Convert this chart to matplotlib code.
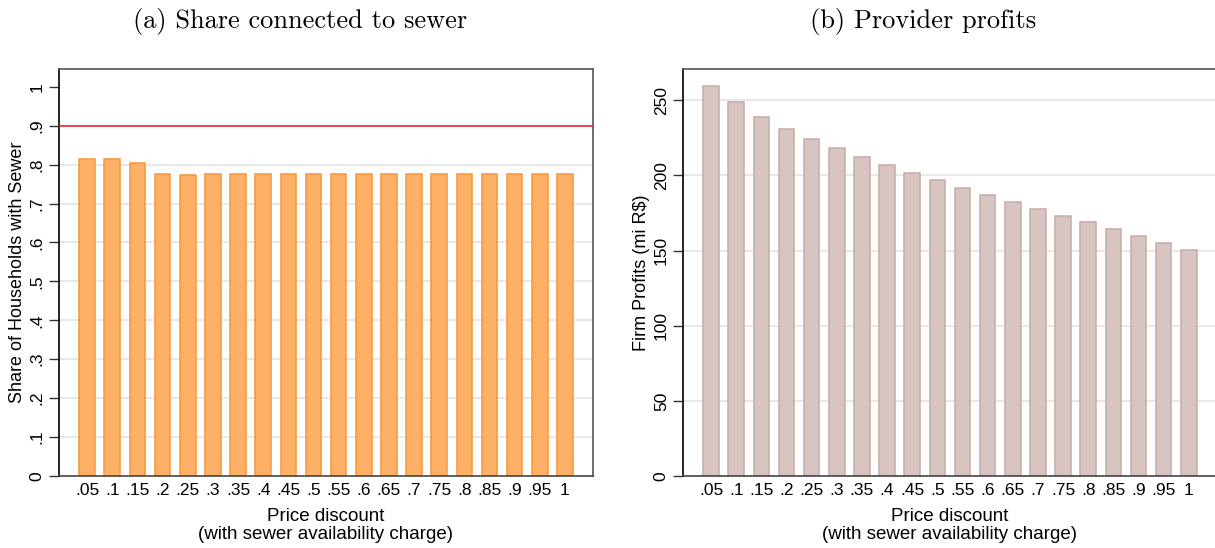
import numpy as np
import matplotlib
matplotlib.use("Agg")
import matplotlib.pyplot as plt

discounts = ['.05', '.1', '.15', '.2', '.25', '.3', '.35', '.4', '.45', '.5',
             '.55', '.6', '.65', '.7', '.75', '.8', '.85', '.9', '.95', '1']
share_sewer = [0.815, 0.815, 0.803, 0.775, 0.773, 0.775, 0.775, 0.775, 0.775, 0.775,
               0.775, 0.775, 0.777, 0.777, 0.777, 0.777, 0.777, 0.777, 0.777, 0.777]
profits = [259.3, 248.7, 238.7, 230.8, 224.1, 218.1, 212.2, 206.9, 201.5, 196.9,
           191.6, 186.9, 182.3, 177.7, 173.0, 168.8, 164.2, 159.5, 155.1, 150.4]
target_share = 0.9

left_ticks = [0, .1, .2, .3, .4, .5, .6, .7, .8, .9, 1]
left_ticklabels = ['0', '.1', '.2', '.3', '.4', '.5', '.6', '.7', '.8', '.9', '1']
left_grid = [.1, .2, .3, .4, .5, .6, .7, .8, .9]
right_ticks = [0, 50, 100, 150, 200, 250]
right_ticklabels = ['0', '50', '100', '150', '200', '250']
right_grid = [50, 100, 150, 200, 250]

plt.rcParams['font.family'] = ['Liberation Sans', 'DejaVu Sans']
plt.rcParams['font.size'] = 12

fig = plt.figure(figsize=(12.15, 5.48), dpi=100)
ax1 = fig.add_axes([0.0483, 0.1314, 0.440, 0.7427])
ax2 = fig.add_axes([0.5619, 0.1314, 0.4398, 0.7427])

x = np.arange(len(discounts))


def style(ax, ticks, labels, grid, ylim, ylabel, lab_x):
    for t in grid:
        ax.axhline(t, color='#e2e2e2', lw=1.1, zorder=0)
    ax.set_ylim(0, ylim)
    ax.set_xlim(-1.13, len(discounts) - 1 + 1.125)
    ax.set_yticks(ticks)
    ax.set_yticklabels(labels, rotation=90, va='center')
    ax.set_xticks(x)
    ax.set_xticklabels(discounts, fontsize=12.5)
    ax.tick_params(axis='x', length=0, pad=5)
    ax.tick_params(axis='y', length=7, width=1, pad=3, color='#333333', labelsize=12.5)
    ax.spines['left'].set_color('black')
    ax.spines['bottom'].set_color('#444444')
    ax.spines['top'].set_color('#555555')
    ax.spines['right'].set_color('#555555')
    for s in ax.spines.values():
        s.set_linewidth(1.2)
    ax.set_xlabel('Price discount\n(with sewer availability charge)', fontsize=13.5,
                  labelpad=7.5, linespacing=1.08)
    ax.set_ylabel(ylabel, fontsize=13)
    ax.yaxis.set_label_coords(lab_x, 0.5)


ax1.bar(x, share_sewer, width=0.62, color='#feb067', edgecolor='#f8963a', lw=1.1, zorder=2)
ax1.axhline(target_share, color='#e3262c', lw=1.2, zorder=3)
style(ax1, left_ticks, left_ticklabels, left_grid, 1.0457,
      'Share of Households with Sewer', -0.062)

ax2.bar(x, profits, width=0.62, color='#d8c5c2', edgecolor='#c8aba7', lw=1.1, zorder=2)
style(ax2, right_ticks, right_ticklabels, right_grid, 270.8,
      'Firm Profits (mi R$)', -0.061)

fig.text(0.247, 0.96, '(a) Share connected to sewer', family='cmr10', fontsize=19,
         ha='center', va='center')
fig.text(0.760, 0.96, '(b) Provider profits', family='cmr10', fontsize=19,
         ha='center', va='center')

fig.savefig('out.png', dpi=100)
